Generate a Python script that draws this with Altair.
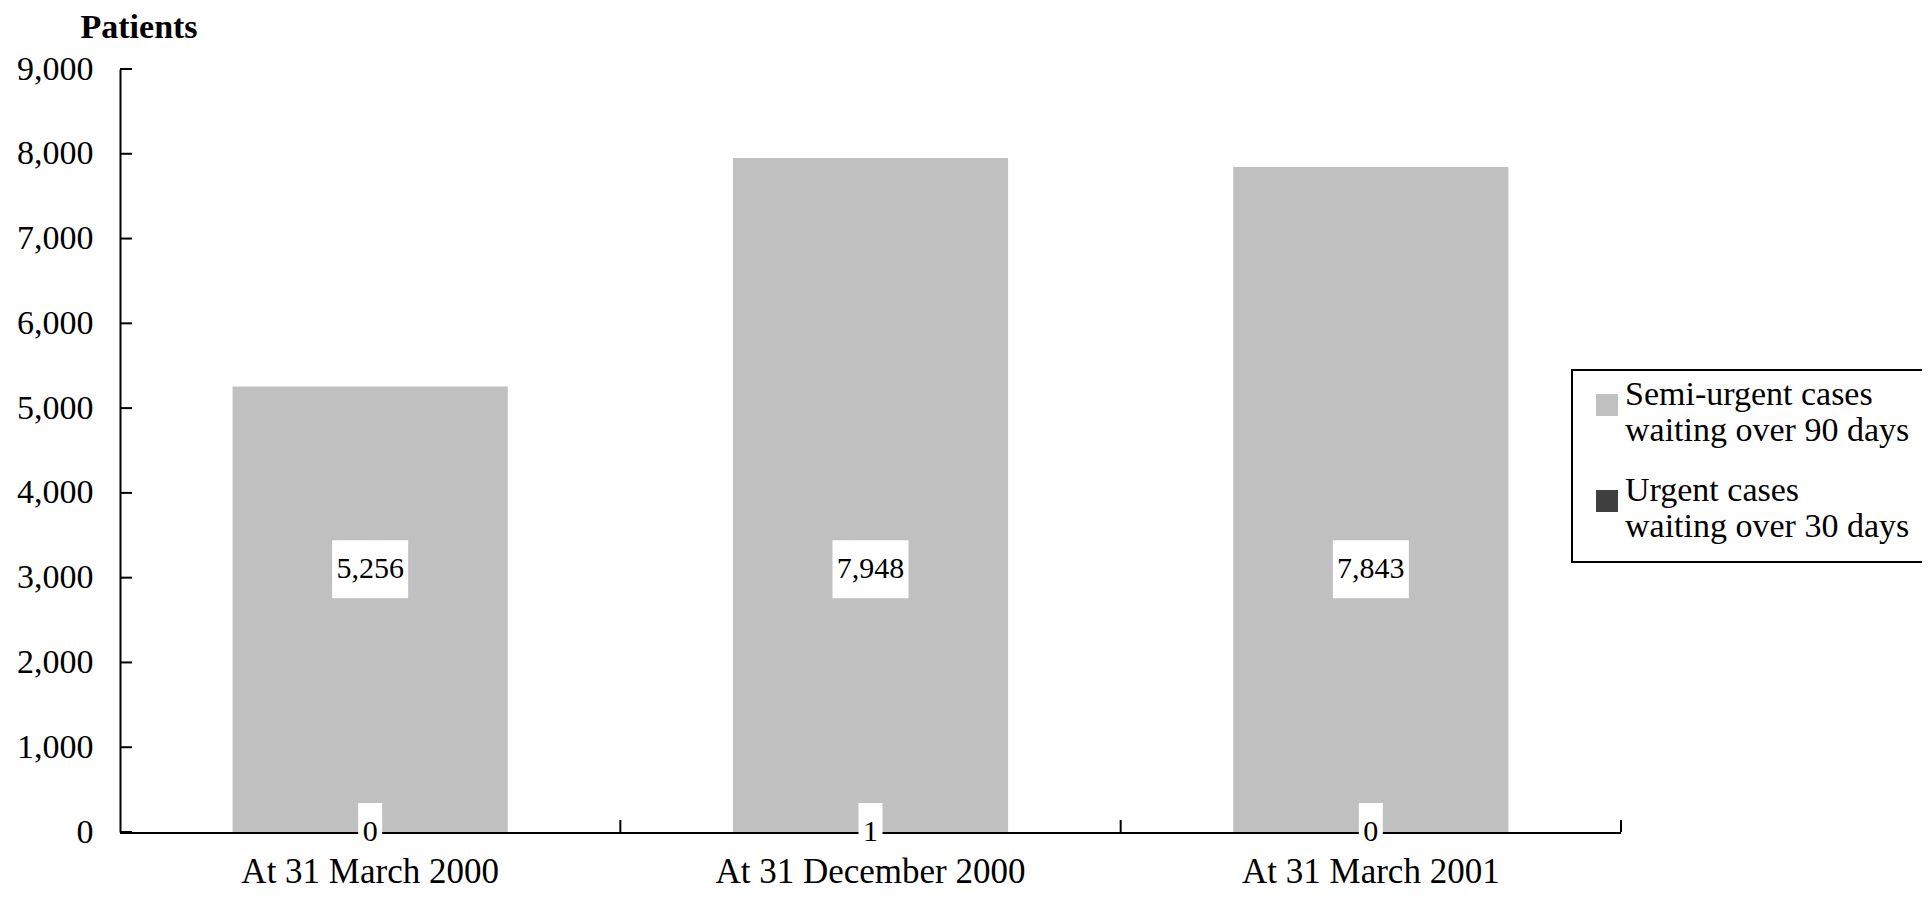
import altair as alt
import pandas as pd

# ---- data ----
dates = ["At 31 March 2000", "At 31 December 2000", "At 31 March 2001"]
semi_urgent = [5256, 7948, 7843]
urgent = [0, 1, 0]
series = ["Semi-urgent cases\nwaiting over 90 days", "Urgent cases\nwaiting over 30 days"]
colors = ["#c0c0c0", "#404040"]
y_ticks = [0, 1000, 2000, 3000, 4000, 5000, 6000, 7000, 8000, 9000]

rows = []
for d, s, u in zip(dates, semi_urgent, urgent):
    rows.append({"date": d, "series": series[1], "value": u, "ord": 1, "kind": "narrow"})
    rows.append({"date": d, "series": series[0], "value": s, "ord": 2, "kind": "wide"})
df = pd.DataFrame(rows)
df_dates = pd.DataFrame({"date": dates})
df_ticks = pd.DataFrame({"v": y_ticks})

FONT = "Liberation Serif"
W, H = 1501, 763
LABEL_LEVEL = 3100  # height (in patients) at which the semi-urgent labels sit

x_axis = alt.Axis(title=None, labelAngle=0, labelFontSize=35, labelFont=FONT,
                  labelColor="black", ticks=False, tickSize=0, domain=False,
                  labelPadding=50, labelBaseline="alphabetic", labelLimit=0, zindex=0)
x_scale = alt.Scale(paddingInner=0, paddingOuter=0)

y_axis = alt.Axis(values=y_ticks, labelExpr="format(datum.value, ',')", grid=False,
                  ticks=False, tickSize=0,
                  labelFontSize=34, labelFont=FONT, labelColor="black",
                  labelPadding=27, domain=True, domainColor="black", domainWidth=2,
                  title="Patients", titleAngle=0, titleX=-40, titleY=-32,
                  titleAlign="left", titleBaseline="alphabetic",
                  titleFont=FONT, titleFontSize=34, titleFontWeight="bold",
                  titleColor="black", zindex=0)
y_scale = alt.Scale(domain=[0, 9000], nice=False, zero=True)


def X(**kw):
    return alt.X("date:N", sort=dates, scale=x_scale, axis=x_axis, **kw)


def Y(field):
    return alt.Y(field, scale=y_scale, axis=y_axis, title="Patients")


baseline = alt.Chart(df_dates).mark_rule(color="black", strokeWidth=2, yOffset=1).encode(
    y=alt.datum(0, scale=y_scale, axis=y_axis, title="Patients"),
    x=alt.value(0), x2=alt.value(W),
)

bars = alt.Chart(df).mark_bar(width=alt.RelativeBandSize(0.55)).encode(
    x=X(),
    y=alt.Y("value:Q", stack="zero", scale=y_scale, axis=y_axis, title="Patients"),
    color=alt.Color("series:N", scale=alt.Scale(domain=series, range=colors),
                    legend=alt.Legend(title=None, orient="none", legendX=1452, legendY=301,
                                      padding=18, strokeColor="black", fillColor="white",
                                      symbolType="square", symbolSize=484,
                                      symbolStrokeWidth=0, symbolOpacity=1,
                                      labelExpr="split(datum.label, '\\n')",
                                      labelFont=FONT, labelFontSize=34, labelColor="black",
                                      labelBaseline="alphabetic", labelOffset=1,
                                      labelLimit=0, rowPadding=26)),
    order=alt.Order("ord:Q"),
)

xticks = alt.Chart(df_dates).mark_rule(color="black", strokeWidth=2).encode(
    x=X(bandPosition=1),
    y=alt.value(H - 12), y2=alt.value(H),
)

yticks = alt.Chart(df_ticks).mark_rule(color="black", strokeWidth=2).encode(
    y=Y("v:Q"),
    x=alt.value(0), x2=alt.value(12),
)

label_base = alt.Chart(df).transform_calculate(
    mid=f"datum.ord == 2 ? {LABEL_LEVEL} : 0", txt="format(datum.value, ',')"
)

# white label boxes: bars centred on the label point, 58 px tall
boxes = label_base.mark_bar(color="white", opacity=1, yOffset=-29, y2Offset=29).encode(
    x=X(),
    y=Y("mid:Q"),
    y2=alt.Y2("mid:Q"),
    size=alt.Size("kind:N", scale=alt.Scale(domain=["wide", "narrow"], range=[76, 24]),
                  legend=None),
)

texts = label_base.mark_text(font=FONT, fontSize=30, color="black", baseline="middle").encode(
    x=X(),
    y=Y("mid:Q"),
    text="txt:N",
)

chart = alt.layer(baseline, bars, xticks, yticks, boxes, texts).properties(
    width=W, height=H,
    padding={"left": 112, "top": 61, "right": 301, "bottom": 59},
    autosize=alt.AutoSizeParams(type="none"),
).configure_view(stroke=None).configure_legend(strokeWidth=2)

chart.save("out.html", embed_options={"renderer": "svg", "actions": False})
